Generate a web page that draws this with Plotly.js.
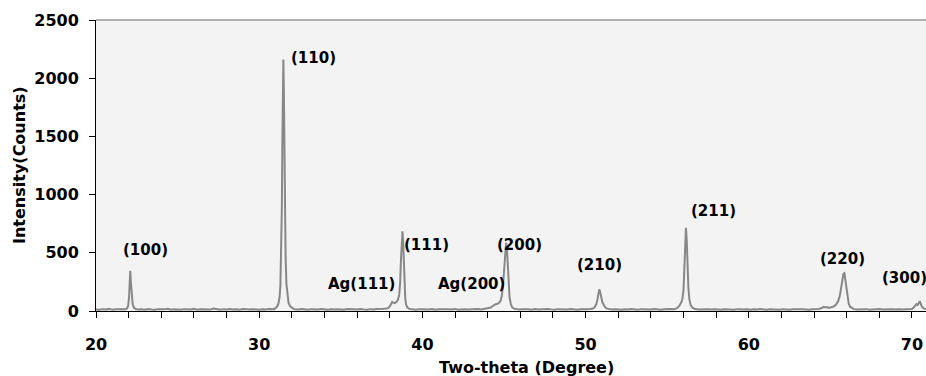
<!DOCTYPE html>
<html>
<head>
<meta charset="utf-8">
<script src="https://cdn.plot.ly/plotly-3.0.1.min.js"></script>
<style>html,body{margin:0;padding:0;background:#fff;overflow:hidden}#chart{width:926px;height:376px}</style>
</head>
<body>
<div id="chart"></div>
<script>
const twoTheta = [
  20.0,20.2,20.4,20.6,20.8,21.0,21.2,21.4,21.6,21.8,
  21.9,21.97,22.02,22.06,22.1,22.14,22.19,22.25,22.33,22.45,
  22.6,22.8,23.0,23.2,23.4,23.6,23.8,24.0,24.2,24.4,
  24.6,24.8,25.0,25.2,25.4,25.6,25.8,26.0,26.2,26.4,
  26.6,26.8,27.0,27.2,27.4,27.6,27.8,28.0,28.2,28.4,
  28.6,28.8,29.0,29.2,29.4,29.6,29.8,30.0,30.2,30.4,
  30.6,30.8,
  30.9,31.0,31.1,31.18,31.25,31.3,31.35,31.39,31.42,31.45,
  31.48,31.51,31.54,31.58,31.62,31.67,31.73,31.8,31.9,32.0,32.1,
  32.2,32.4,32.6,32.8,33.0,33.2,33.4,33.6,33.8,34.0,
  34.2,34.4,34.6,34.8,35.0,35.2,35.4,35.6,35.8,36.0,
  36.2,36.4,36.6,36.8,37.0,37.2,37.4,37.6,37.8,
  37.9,38.0,38.08,38.15,38.22,38.3,38.4,38.5,38.58,38.64,
  38.69,38.74,38.78,38.82,38.86,38.9,38.95,39.0,39.08,39.2,
  39.4,39.6,39.8,40.0,40.2,40.4,40.6,40.8,41.0,41.2,
  41.4,41.6,41.8,42.0,42.2,42.4,42.6,42.8,43.0,43.2,
  43.4,43.6,43.8,44.0,
  44.1,44.2,44.3,44.4,44.5,44.6,44.7,44.8,44.88,44.95,
  45.02,45.08,45.13,45.18,45.23,45.28,45.34,45.42,45.5,45.62,45.75,
  45.9,46.1,46.3,46.5,46.7,46.9,47.1,47.3,47.5,47.7,
  47.9,48.1,48.3,48.5,48.7,48.9,49.1,49.3,49.5,49.7,
  49.9,50.1,50.3,
  50.45,50.55,50.65,50.72,50.78,50.84,50.9,50.96,51.02,51.1,
  51.2,51.32,51.45,
  51.6,51.8,52.0,52.2,52.4,52.6,52.8,53.0,53.2,53.4,
  53.6,53.8,54.0,54.2,54.4,54.6,54.8,55.0,55.2,55.4,
  55.55,55.65,55.75,55.85,55.93,56.0,56.05,56.1,56.15,56.2,
  56.25,56.3,56.36,56.44,56.55,56.7,
  56.9,57.1,57.3,57.5,57.7,57.9,58.1,58.3,58.5,58.7,
  58.9,59.1,59.3,59.5,59.7,59.9,60.1,60.3,60.5,60.7,
  60.9,61.1,61.3,61.5,61.7,61.9,62.1,62.3,62.5,62.7,
  62.9,63.1,63.3,63.5,63.7,63.9,64.1,64.3,
  64.5,64.6,64.7,64.8,64.9,65.0,
  65.2,65.35,65.48,65.58,65.66,65.73,65.8,65.86,65.92,65.98,
  66.05,66.13,66.22,66.33,66.45,
  66.6,66.8,67.0,67.2,67.4,67.6,67.8,68.0,68.2,68.4,
  68.6,68.8,69.0,69.2,69.4,69.6,69.8,70.0,
  70.1,70.2,70.28,70.35,70.42,70.48,70.54,70.62,70.72,70.86
];
const counts = [
  14,11,16,12,18,10,15,13,17,14,
  22,45,110,230,345,240,120,55,28,16,
  12,15,11,17,13,10,16,12,14,19,
  11,15,13,10,16,14,12,18,11,15,
  13,17,12,21,14,11,16,13,18,12,
  15,11,17,14,12,16,13,10,15,12,
  17,14,
  16,24,38,65,120,220,480,900,1450,1950,
  2160,1900,1400,850,450,230,120,70,40,26,18,
  15,12,17,13,11,16,14,12,18,13,
  10,15,12,16,14,11,17,13,15,12,
  18,14,11,16,13,17,15,19,22,
  25,40,65,78,72,68,75,95,140,250,
  450,640,685,600,420,230,110,55,30,18,
  14,11,16,13,15,12,17,11,14,16,
  12,15,13,18,11,14,16,12,15,13,
  17,14,18,21,
  24,30,42,52,58,62,70,90,140,240,
  400,540,585,540,400,240,120,60,32,20,15,
  13,16,12,14,11,17,13,15,12,18,
  14,11,16,13,15,12,17,14,10,15,
  13,16,18,
  22,32,55,95,150,186,160,110,80,55,
  32,20,15,
  12,16,13,11,15,12,17,14,11,16,
  13,15,12,18,14,11,15,13,17,16,
  20,30,45,70,100,180,330,560,715,600,
  380,200,100,50,28,17,
  13,15,11,14,12,16,13,10,15,12,
  14,11,16,13,12,15,11,14,12,17,
  13,11,15,12,14,10,16,13,11,15,
  12,14,16,13,11,15,14,17,
  28,36,30,34,27,30,
  38,55,85,130,200,280,320,325,270,190,
  110,60,35,22,16,
  13,15,12,16,11,14,12,17,13,15,
  11,14,12,16,13,15,12,18,
  30,45,60,52,70,85,60,35,22,16
];

// Peak labels and their positions (degree, counts)
const peakLabels = ["(100)","(110)","Ag(111)","(111)","Ag(200)","(200)","(210)","(211)","(220)","(300)"];
const labelX     = [23.06, 33.30, 36.24, 40.28, 43.02, 45.98, 50.88, 57.81, 65.77, 69.54];
const labelY     = [528, 2171, 232, 567, 232, 567, 391, 862, 447, 283];

const xTickVals = [20, 30, 40, 50, 60, 70];
const yTickVals = [0, 500, 1000, 1500, 2000, 2500];

const FONT = "DejaVu Sans";

const annotations = peakLabels.map((t, i) => ({
  text: "<b>" + t + "</b>",
  x: labelX[i], y: labelY[i], xref: "x", yref: "y",
  showarrow: false, xanchor: "center", yanchor: "middle",
  font: {family: FONT, size: 15, color: "#000"}
}));
annotations.push({
  text: "<b>Two-theta (Degree)</b>",
  x: 0.519, y: 0, xref: "paper", yref: "paper",
  xanchor: "center", yanchor: "middle", yshift: -56,
  showarrow: false, font: {family: FONT, size: 16, color: "#000"}
});
annotations.push({
  text: "<b>Intensity(Counts)</b>",
  x: 0, y: 0.5, xref: "paper", yref: "paper",
  xanchor: "center", yanchor: "middle", xshift: -76.5, textangle: -90,
  showarrow: false, font: {family: FONT, size: 16, color: "#000"}
});

const trace = {
  x: twoTheta, y: counts, type: "scatter", mode: "lines",
  line: {color: "#878787", width: 2},
  hoverinfo: "skip"
};

const layout = {
  width: 926, height: 376,
  margin: {l: 96, r: 0, t: 20, b: 65},
  paper_bgcolor: "#ffffff",
  plot_bgcolor: "#f3f3f3",
  showlegend: false,
  xaxis: {
    range: [20, 70.86],
    tickvals: xTickVals,
    ticks: "outside", ticklen: 6, tickwidth: 1, tickcolor: "#000",
    showline: true, linecolor: "#000", linewidth: 1,
    showgrid: false, zeroline: false,
    layer: "below traces",
    ticklabelstandoff: 13,
    tickfont: {family: FONT, size: 16, color: "#000", weight: "bold"},
    minor: {dtick: 2, tick0: 0, ticks: "outside", ticklen: 6, tickwidth: 1, tickcolor: "#000", showgrid: false}
  },
  yaxis: {
    range: [0, 2500],
    tickvals: yTickVals,
    ticks: "outside", ticklen: 6, tickwidth: 1, tickcolor: "#000",
    showline: true, linecolor: "#000", linewidth: 1,
    showgrid: false, zeroline: false,
    layer: "below traces",
    ticklabelstandoff: 7,
    tickfont: {family: FONT, size: 16, color: "#000", weight: "bold"}
  },
  shapes: [{
    type: "line", xref: "paper", yref: "paper",
    x0: 0, x1: 1, y0: 1, y1: 1,
    line: {color: "#999999", width: 1.5}
  }],
  annotations: annotations
};

Plotly.newPlot("chart", [trace], layout, {staticPlot: true, displayModeBar: false});
</script>
</body>
</html>
